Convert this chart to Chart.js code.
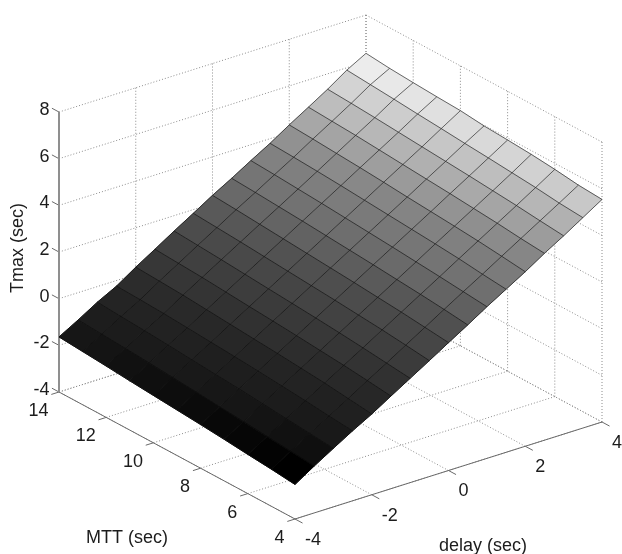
<!DOCTYPE html>
<html><head><meta charset="utf-8">
<style>html,body{margin:0;padding:0;background:#fff}canvas{display:block}</style>
<script src="https://cdn.jsdelivr.net/npm/chart.js@4"></script>
</head><body><canvas id="c" width="622" height="554"></canvas>
<script>
const delayValues = [-4,-3.5,-3,-2.5,-2,-1.5,-1,-0.5,0,0.5,1,1.5,2,2.5,3,3.5,4];
const mttValues = [4,5,6,7,8,9,10,11,12,13,14];
const delayTicks = [-4,-2,0,2,4];
const mttTicks = [4,6,8,10,12,14];
const tmaxTicks = [-4,-2,0,2,4,6,8];
const axisTitles = {delay:'delay (sec)', mtt:'MTT (sec)', tmax:'Tmax (sec)'};
const tmaxM4  = [-2.52,-1.99,-1.49,-1.00,-0.54,-0.03,0.47,0.97,1.48,1.98,2.50,2.99,3.48,4.01,4.50,5.02,5.54];
const tmaxM5  = [-2.41,-1.90,-1.40,-0.91,-0.42,0.09,0.58,1.09,1.59,2.10,2.60,3.09,3.60,4.10,4.60,5.10,5.61];
const tmaxM6  = [-2.32,-1.81,-1.31,-0.80,-0.30,0.20,0.69,1.20,1.70,2.20,2.70,3.21,3.71,4.21,4.71,5.22,5.74];
const tmaxM7  = [-2.22,-1.72,-1.21,-0.71,-0.21,0.29,0.79,1.29,1.79,2.29,2.79,3.30,3.80,4.30,4.80,5.31,5.84];
const tmaxM8  = [-2.13,-1.63,-1.12,-0.62,-0.12,0.38,0.88,1.38,1.88,2.38,2.88,3.38,3.88,4.39,4.89,5.40,5.91];
const tmaxM9  = [-2.05,-1.54,-1.04,-0.54,-0.04,0.46,0.96,1.46,1.96,2.46,2.96,3.46,3.96,4.47,4.97,5.48,5.97];
const tmaxM10 = [-1.97,-1.46,-0.96,-0.47,0.04,0.54,1.04,1.54,2.04,2.54,3.04,3.54,4.05,4.55,5.05,5.57,6.08];
const tmaxM11 = [-1.89,-1.38,-0.88,-0.40,0.12,0.62,1.12,1.62,2.12,2.62,3.12,3.62,4.13,4.63,5.13,5.65,6.13];
const tmaxM12 = [-1.80,-1.30,-0.80,-0.33,0.20,0.70,1.20,1.70,2.20,2.69,3.19,3.69,4.20,4.71,5.21,5.74,6.19];
const tmaxM13 = [-1.72,-1.24,-0.74,-0.28,0.26,0.76,1.27,1.77,2.28,2.76,3.26,3.75,4.27,4.77,5.28,5.82,6.26];
const tmaxM14 = [-1.64,-1.17,-0.67,-0.24,0.31,0.82,1.34,1.84,2.35,2.82,3.32,3.80,4.33,4.83,5.34,5.90,6.36];
const tmaxRows = [tmaxM4,tmaxM5,tmaxM6,tmaxM7,tmaxM8,tmaxM9,tmaxM10,tmaxM11,tmaxM12,tmaxM13,tmaxM14];
// colormap: position in the Tmax range -> gray level
const mapPos  = [0,0.09,0.22,0.45,0.55,0.68,0.85,0.94,1];
const mapGray = [0,22,38,80,108,135,200,236,255];

// orthographic view of the 3D box onto the plane of the two hidden scales
function P(d,m,z){
  return {x:448.5+38.375*d-23.6*(m-4), y:470.5-12.125*d-12.7*(m-4)-23.33*(z+4)};
}
const dMin=-4,dMax=4,mMin=4,mMax=14,zMin=-4,zMax=8;
const all=tmaxRows.flat(), cLo=Math.min(...all), cHi=Math.max(...all);
function gray(z){
  const t=(z-cLo)/(cHi-cLo);
  let k=0; while(k<mapPos.length-2 && t>mapPos[k+1]) k++;
  const g=Math.round(mapGray[k]+(mapGray[k+1]-mapGray[k])*(t-mapPos[k])/(mapPos[k+1]-mapPos[k]));
  return `rgb(${g},${g},${g})`;
}

const datasets=[];
function addDotted(pts){datasets.push({data:pts,showLine:true,fill:false,borderColor:'#8c8c8c',borderWidth:1,borderDash:[1,2],pointRadius:0,order:4});}
function addSolid(pts,col,w){datasets.push({data:pts,showLine:true,fill:false,borderColor:col,borderWidth:w,pointRadius:0,order:3});}

// grid on floor and the two back walls
delayTicks.forEach(d=>{
  addDotted([P(d,mMin,zMin),P(d,mMax,zMin)]);
  addDotted([P(d,mMax,zMin),P(d,mMax,zMax)]);
});
mttTicks.forEach(m=>{
  addDotted([P(dMin,m,zMin),P(dMax,m,zMin)]);
  addDotted([P(dMax,m,zMin),P(dMax,m,zMax)]);
});
tmaxTicks.forEach(z=>{
  addDotted([P(dMin,mMax,z),P(dMax,mMax,z)]);
  addDotted([P(dMax,mMax,z),P(dMax,mMin,z)]);
});
// axes and tick marks
addSolid([P(dMin,mMax,zMin),P(dMin,mMax,zMax)],'#8f8f8f',2);
addSolid([P(dMin,mMax,zMin),P(dMin,mMin,zMin)],'#6a6a6a',1);
addSolid([P(dMin,mMin,zMin),P(dMax,mMin,zMin)],'#6a6a6a',1);
tmaxTicks.forEach(z=>addSolid([P(dMin,mMax,z),P(dMin,mMax+0.3,z)],'#6a6a6a',1));
mttTicks.forEach(m=>addSolid([P(dMin,m,zMin),P(dMin-0.2,m,zMin)],'#6a6a6a',1));
delayTicks.forEach(d=>addSolid([P(d,mMin,zMin),P(d,mMin-0.32,zMin)],'#6a6a6a',1));
// surface faces
for(let j=0;j<mttValues.length-1;j++){
  for(let i=0;i<delayValues.length-1;i++){
    const d0=delayValues[i],d1=delayValues[i+1],m0=mttValues[j],m1=mttValues[j+1];
    const r0=tmaxRows[j],r1=tmaxRows[j+1];
    const col=gray(r0[i]);
    datasets.push({
      data:[P(d0,m0,r0[i]),P(d1,m0,r0[i+1]),P(d1,m1,r1[i+1]),P(d0,m1,r1[i]),P(d0,m0,r0[i])],
      showLine:true,fill:'shape',backgroundColor:col,borderColor:col,borderWidth:1,pointRadius:0,order:2
    });
  }
}
// surface mesh on top of all faces
const meshStyle={showLine:true,fill:false,borderColor:'rgba(15,15,15,0.6)',borderWidth:1,pointRadius:0,order:1};
tmaxRows.forEach((row,j)=>datasets.push({...meshStyle,data:delayValues.map((d,i)=>P(d,mttValues[j],row[i]))}));
delayValues.forEach((d,i)=>datasets.push({...meshStyle,data:mttValues.map((m,j)=>P(d,m,tmaxRows[j][i]))}));

const textPlugin={id:'labels3d',afterDraw(chart){
  const c=chart.ctx,sx=chart.scales.x,sy=chart.scales.y;
  const px=p=>({x:sx.getPixelForValue(p.x),y:sy.getPixelForValue(p.y)});
  c.save();
  c.fillStyle='#1c1c1c';c.font='18px "Liberation Sans", Arial, sans-serif';c.textBaseline='middle';
  c.textAlign='right';
  tmaxTicks.forEach(z=>{const p=px(P(dMin,mMax,z));c.fillText(String(z),p.x-9.5,p.y-2);});
  mttTicks.forEach(m=>{const p=px(P(dMin,m,zMin));c.fillText(String(m),p.x-10.5,p.y+19);});
  c.textAlign='left';
  delayTicks.forEach(d=>{const p=px(P(d,mMin,zMin));c.fillText(String(d),p.x+10,p.y+21);});
  c.textAlign='center';
  c.fillText(axisTitles.mtt,127,538);
  c.fillText(axisTitles.delay,483,546);
  c.translate(18,248);c.rotate(-Math.PI/2);
  c.fillText(axisTitles.tmax,0,0);
  c.restore();
}};

new Chart(document.getElementById('c'),{
  type:'scatter',
  data:{datasets},
  options:{
    responsive:false,animation:false,devicePixelRatio:1,
    layout:{padding:0},
    plugins:{legend:{display:false},tooltip:{enabled:false},title:{display:false}},
    elements:{line:{tension:0}},
    scales:{
      x:{type:'linear',min:0,max:622,display:false},
      y:{type:'linear',min:0,max:554,reverse:true,display:false}
    }
  },
  plugins:[textPlugin]
});
</script></body></html>
